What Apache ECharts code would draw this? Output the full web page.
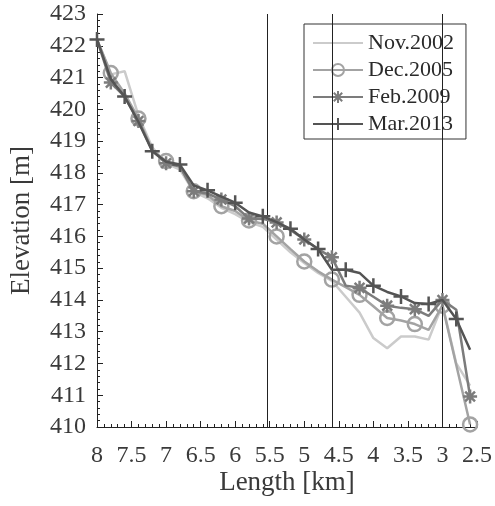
<!DOCTYPE html>
<html>
<head>
<meta charset="utf-8">
<script src="https://cdn.jsdelivr.net/npm/echarts@6/dist/echarts.min.js"></script>
<style>html,body{margin:0;padding:0;background:#fff;}#c{width:495px;height:506px;}</style>
</head>
<body>
<div id="c"></div>
<script>
// Length stations [km]
const lengthKm = [8.0, 7.8, 7.6, 7.4, 7.2, 7.0, 6.8, 6.6, 6.4, 6.2, 6.0, 5.8, 5.6, 5.4, 5.2, 5.0, 4.8, 4.6, 4.4, 4.2, 4.0, 3.8, 3.6, 3.4, 3.2, 3.0, 2.8, 2.6];
// Elevation [m]
const nov2002 = [422.2, 421.1, 421.2, 419.8, 418.8, 418.3, 418.1, 417.4, 417.2, 416.9, 416.7, 416.45, 416.3, 415.9, 415.5, 415.16, 414.85, 414.6, 414.1, 413.6, 412.8, 412.48, 412.85, 412.85, 412.75, 413.85, 412.0, 411.3];
const dec2005 = [422.2, 421.14, 420.5, 419.71, 418.7, 418.37, 418.2, 417.42, 417.3, 416.95, 416.8, 416.5, 416.4, 416.0, 415.6, 415.21, 414.9, 414.64, 414.4, 414.16, 413.8, 413.43, 413.35, 413.24, 413.06, 413.82, 411.95, 410.08];
const feb2009 = [422.2, 420.84, 420.4, 419.63, 418.7, 418.3, 418.2, 417.42, 417.35, 417.16, 416.95, 416.56, 416.55, 416.44, 416.2, 415.9, 415.6, 415.34, 414.45, 414.38, 414.1, 413.82, 413.75, 413.71, 413.5, 414.0, 413.69, 410.96];
const mar2013 = [422.2, 420.95, 420.4, 419.6, 418.68, 418.35, 418.26, 417.6, 417.45, 417.25, 417.06, 416.75, 416.63, 416.45, 416.24, 415.9, 415.6, 414.95, 414.95, 414.85, 414.45, 414.25, 414.11, 413.9, 413.87, 414.0, 413.4, 412.43];
// Cross-section positions [km]
const crossSections = [5.525, 4.6, 3.0];
const seriesNames = ['Nov.2002', 'Dec.2005', 'Feb.2009', 'Mar.2013'];

const FONT = "'Liberation Serif', 'DejaVu Serif', 'Times New Roman', serif";
const ASTER = 'path://M0,10L20,10M10,0L10,20M3,3L17,17M17,3L3,17';
const PLUS = 'path://M0,10L20,10M10,0L10,20';

function build(vals, markParity, symbol) {
  return lengthKm.map((x, i) => {
    const item = { value: [x, vals[i]] };
    if (symbol === 'none' || i % 2 !== markParity) item.symbol = 'none';
    return item;
  });
}

const cfg = [
  { name: seriesNames[0], vals: nov2002, color: '#cbcbcb', symbol: 'none', parity: 0, size: 0, fill: '#cbcbcb' },
  { name: seriesNames[1], vals: dec2005, color: '#a3a3a3', symbol: 'circle', parity: 1, size: 14, fill: 'rgba(255,255,255,0)' },
  { name: seriesNames[2], vals: feb2009, color: '#7c7c7c', symbol: ASTER, parity: 1, size: 14, fill: '#7c7c7c' },
  { name: seriesNames[3], vals: mar2013, color: '#545454', symbol: PLUS, parity: 0, size: 15, fill: '#545454' }
];

const series = cfg.map((c, k) => ({
  name: c.name,
  type: 'line',
  data: build(c.vals, c.parity, c.symbol),
  symbol: c.symbol,
  symbolSize: c.size,
  showSymbol: true,
  lineStyle: { color: c.color, width: 2.5 },
  itemStyle: { color: c.fill, borderColor: c.color, borderWidth: 2.5 },
  z: 3 + k,
  animation: false,
  emphasis: { disabled: true }
}));

series.push({
  name: 'sections',
  type: 'line',
  data: [],
  animation: false,
  markLine: {
    silent: true,
    symbol: ['none', 'none'],
    label: { show: false },
    lineStyle: { color: '#222', width: 1, type: 'solid' },
    data: crossSections.map(x => ({ xAxis: x }))
  },
  z: 1
});

const legendData = seriesNames.map((n, i) => i === 0
  ? { name: n, itemStyle: { opacity: 0, borderWidth: 0, color: 'rgba(0,0,0,0)' } }
  : { name: n });

const chart = echarts.init(document.getElementById('c'));
chart.setOption({
  animation: false,
  backgroundColor: '#fff',
  textStyle: { fontFamily: FONT },
  grid: { left: 94, right: 14, top: 14, bottom: 79 },
  xAxis: {
    type: 'value', inverse: true, min: 2.5, max: 8, interval: 0.5,
    name: 'Length [km]', nameLocation: 'middle', nameGap: 42, nameMoveOverlap: false,
    nameTextStyle: { fontFamily: FONT, fontSize: 27, color: '#3a3a3a' },
    axisLine: { show: true, onZero: false, lineStyle: { color: '#222', width: 1 } },
    axisTick: { show: true, inside: true, length: 6, lineStyle: { color: '#222' } },
    minorTick: { show: true, splitNumber: 5, length: 3, lineStyle: { color: '#222' } },
    axisLabel: { fontFamily: FONT, fontSize: 24, color: '#3a3a3a', margin: 17 },
    splitLine: { show: false }
  },
  yAxis: {
    type: 'value', min: 410, max: 423, interval: 1,
    name: 'Elevation [m]', nameLocation: 'middle', nameGap: 62, nameMoveOverlap: false,
    nameTextStyle: { fontFamily: FONT, fontSize: 27, color: '#3a3a3a' },
    axisLine: { show: true, onZero: false, lineStyle: { color: '#222', width: 1 } },
    axisTick: { show: true, inside: true, length: 6, lineStyle: { color: '#222' } },
    minorTick: { show: true, splitNumber: 5, length: 3, lineStyle: { color: '#222' } },
    axisLabel: { fontFamily: FONT, fontSize: 24, color: '#3a3a3a', margin: 11 },
    splitLine: { show: false }
  },
  legend: {
    data: legendData,
    orient: 'vertical',
    left: 304, top: 24,
    backgroundColor: '#fff',
    borderColor: '#333', borderWidth: 1, borderRadius: 0,
    padding: [8, 12, 4, 8],
    itemWidth: 50, itemHeight: 15, itemGap: 5,
    textStyle: { fontFamily: FONT, fontSize: 22, color: '#2a2a2a' },
    selectedMode: false
  },
  series: series
});
</script>
</body>
</html>
